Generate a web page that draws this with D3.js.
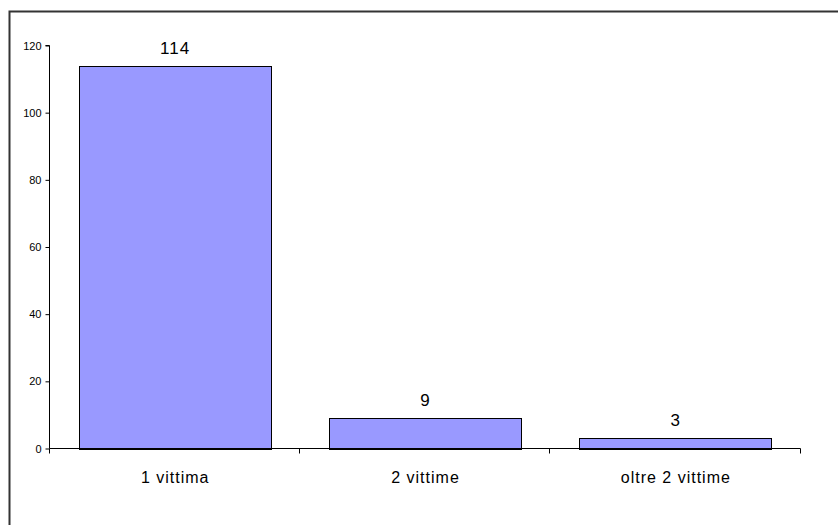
<!DOCTYPE html>
<html><head><meta charset="utf-8">
<script src="https://cdn.jsdelivr.net/npm/d3@7"></script>
<style>body{margin:0;background:#fff}svg{display:block}</style>
</head><body>
<svg id="c" width="838" height="525"></svg>
<script>
const categories = ["1 vittima", "2 vittime", "oltre 2 vittime"];
const values = [114, 9, 3];
const yTicks = [0, 20, 40, 60, 80, 100, 120];

(function () {
const svg = d3.select("#c");
const fontFam = "Liberation Sans, Arial, sans-serif";

// outer frame
svg.append("rect").attr("x", 9.5).attr("y", 11.5).attr("width", 840).attr("height", 530)
  .attr("fill", "none").attr("stroke", "#333").attr("stroke-width", 2);

const pL = 49.5, pR = 800.5, pT = 45.5, pB = 448.5;
const x = d3.scaleBand().domain(categories).range([pL, pR]).paddingInner(0.232).paddingOuter(0.116);
const y = d3.scaleLinear().domain([0, 120]).range([pB, pT]);

// bars
svg.selectAll("rect.bar").data(values).enter().append("rect").attr("class", "bar")
  .attr("x", (d, i) => Math.round(x(categories[i])) + 0.5)
  .attr("y", d => Math.round(y(d)) + 0.5)
  .attr("width", Math.round(x.bandwidth()))
  .attr("height", d => Math.round(y(0)) - Math.round(y(d)))
  .attr("fill", "#9999ff").attr("stroke", "#000").attr("stroke-width", 1);

// y axis
const yAxis = d3.axisLeft(y).tickValues(yTicks).tickSize(4).tickPadding(4);
const gy = svg.append("g").attr("transform", `translate(${pL},0)`).call(yAxis);
gy.select(".domain").attr("d", `M-4,${pT}H0V${pB}`).attr("stroke", "#000");
gy.selectAll(".tick line").attr("stroke", "#000");
gy.selectAll(".tick text").attr("font-family", fontFam).attr("font-size", 11).attr("fill", "#000");

// x axis
const gx = svg.append("g").attr("transform", `translate(0,${pB})`);
gx.append("line").attr("x1", pL).attr("x2", pR).attr("y1", 0).attr("y2", 0).attr("stroke", "#000");
const bounds = d3.range(categories.length + 1).map(i => pL + i * (pR - pL) / categories.length);
gx.selectAll("line.t").data(bounds).enter().append("line").attr("class", "t")
  .attr("x1", d => Math.round(d) - 0.5).attr("x2", d => Math.round(d) - 0.5)
  .attr("y1", 0).attr("y2", 5).attr("stroke", "#000");
gx.selectAll("text").data(categories).enter().append("text")
  .attr("x", d => x(d) + x.bandwidth() / 2 + 0.5).attr("y", 34)
  .attr("text-anchor", "middle").attr("font-family", fontFam).attr("font-size", 16)
  .attr("letter-spacing", 1).text(d => d);

// value labels
svg.selectAll("text.v").data(values).enter().append("text").attr("class", "v")
  .attr("x", (d, i) => x(categories[i]) + x.bandwidth() / 2 + 0.5)
  .attr("y", d => y(d) - 12)
  .attr("text-anchor", "middle").attr("font-family", fontFam).attr("font-size", 17)
  .attr("letter-spacing", 1).text(d => d);
})();
</script>
</body></html>
